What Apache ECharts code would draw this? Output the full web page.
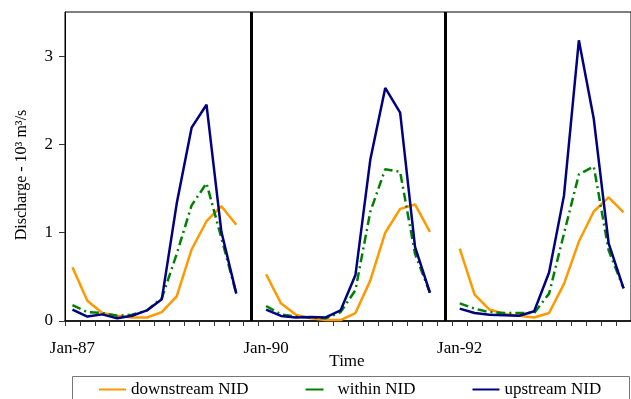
<!DOCTYPE html>
<html>
<head>
<meta charset="utf-8">
<script src="https://cdn.jsdelivr.net/npm/echarts@6/dist/echarts.min.js"></script>
<style>
  html, body { margin: 0; padding: 0; background: #fff; }
  #chart { width: 631px; height: 399px; }
</style>
</head>
<body>
<div id="chart"></div>
<script>
// 年份与月份
var years = ["87", "90", "92"];
var months = ["Jan", "Feb", "Mar", "Apr", "May", "Jun", "Jul", "Aug", "Sep", "Oct", "Nov", "Dec"];

// 各站点月流量 (10^3 m3/s)
var down87 = [0.61, 0.23, 0.09, 0.06, 0.04, 0.04, 0.10, 0.28, 0.81, 1.13, 1.30, 1.09];
var within87 = [0.18, 0.10, 0.09, 0.06, 0.07, 0.12, 0.26, 0.76, 1.31, 1.56, 0.94, 0.31];
var up87 = [0.13, 0.05, 0.075, 0.03, 0.06, 0.12, 0.245, 1.33, 2.19, 2.45, 1.01, 0.31];

var down90 = [0.53, 0.20, 0.07, 0.03, 0.01, 0.01, 0.09, 0.46, 1.00, 1.27, 1.32, 1.01];
var within90 = [0.17, 0.075, 0.05, 0.04, 0.03, 0.10, 0.35, 1.24, 1.72, 1.69, 0.76, 0.32];
var up90 = [0.13, 0.057, 0.04, 0.045, 0.04, 0.12, 0.52, 1.83, 2.64, 2.36, 0.84, 0.32];

var down92 = [0.82, 0.30, 0.13, 0.08, 0.06, 0.04, 0.09, 0.42, 0.90, 1.24, 1.40, 1.23];
var within92 = [0.20, 0.14, 0.10, 0.09, 0.09, 0.09, 0.31, 0.99, 1.66, 1.75, 0.80, 0.37];
var up92 = [0.14, 0.09, 0.07, 0.065, 0.06, 0.11, 0.55, 1.42, 3.18, 2.29, 0.88, 0.37];

var yTicks = [0, 1, 2, 3];

// 拼接三段，中间留一个空位
var categories = [];
var sepIndex = [];
years.forEach(function (y, i) {
  months.forEach(function (m) { categories.push(m + "-" + y); });
  if (i < years.length - 1) {
    sepIndex.push(categories.length);
    categories.push("gap" + i);
  }
});
function join(a, b, c) {
  return a.concat([null], b, [null], c);
}

var FONT = "Liberation Serif";
var myChart = echarts.init(document.getElementById("chart"));

function lineSeries(name, data, color, type) {
  return {
    name: name,
    type: "line",
    data: data,
    symbol: "none",
    connectNulls: false,
    animation: false,
    lineStyle: { color: color, width: 2.5, type: type },
    itemStyle: { color: color },
  };
}

var series = [
  lineSeries("downstream NID", join(down87, down90, down92), "#FF9900", "solid"),
  lineSeries("within NID", join(within87, within90, within92), "#008000", [9, 4, 2, 4]),
  lineSeries("upstream NID", join(up87, up90, up92), "#000080", "solid"),
];
// 分隔竖线
series[0].markLine = {
  silent: true,
  symbol: "none",
  label: { show: false },
  lineStyle: { color: "#000", width: 3, type: "solid" },
  data: sepIndex.map(function (i) { return { xAxis: i }; }),
};

option = {
  animation: false,
  grid: {
    left: 65,
    top: 12,
    right: -4,
    bottom: 78,
    show: true,
    borderColor: "#000",
    borderWidth: 1,
  },
  legend: {
    left: 93,
    top: 376,
    itemWidth: 27,
    itemHeight: 14,
    itemGap: 56,
    itemStyle: { opacity: 0 },
    textStyle: { fontFamily: FONT, fontSize: 17, color: "#000" },
    data: [
      { name: "downstream NID" },
      { name: "within NID", lineStyle: { type: [18, 20] } },
      { name: "upstream NID" },
    ],
  },
  graphic: [
    {
      type: "rect",
      shape: { x: 72.5, y: 376.5, width: 557, height: 40 },
      style: { fill: "none", stroke: "#777", lineWidth: 1 },
    },
    {
      // 纵轴标题
      type: "text",
      x: 22,
      y: 175,
      rotation: Math.PI / 2,
      style: {
        text: "Discharge - 10³ m³/s",
        font: "16px 'Liberation Serif'",
        fill: "#000",
        align: "center",
        verticalAlign: "middle",
      },
    },
    {
      // 横轴标题
      type: "text",
      x: 347,
      y: 362,
      style: {
        text: "Time",
        font: "17px 'Liberation Serif'",
        fill: "#000",
        align: "center",
        verticalAlign: "middle",
      },
    },
  ],
  xAxis: {
    type: "category",
    data: categories,
    boundaryGap: true,
    axisLine: { show: true, lineStyle: { color: "#000", width: 1.5 } },
    axisTick: { show: true, interval: 0, length: 5, lineStyle: { color: "#333" } },
    axisLabel: {
      interval: function (idx, val) { return val.indexOf("Jan") === 0; },
      margin: 19,
      fontFamily: FONT,
      fontSize: 17,
      color: "#000",
    },
    splitLine: { show: false },
  },
  yAxis: {
    type: "value",
    min: 0,
    max: 3.5,
    interval: 1,
    axisLine: { show: true, lineStyle: { color: "#000", width: 1 } },
    axisTick: { show: true, length: 6, customValues: yTicks, lineStyle: { color: "#333" } },
    axisLabel: {
      customValues: yTicks,
      margin: 12,
      fontFamily: FONT,
      fontSize: 17,
      color: "#000",
    },
    splitLine: { show: false },
  },
  series: series,
};

myChart.setOption(option);
window.addEventListener("resize", function () {
  myChart.resize();
});
</script>
</body>
</html>
